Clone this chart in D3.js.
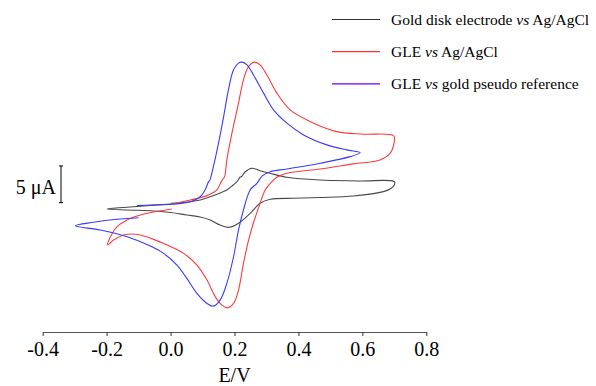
<!DOCTYPE html>
<meta charset="utf-8">
<script src="https://d3js.org/d3.v7.min.js"></script>
<style>
  body { margin: 0; background: #fff; }
  text { font-family: "Liberation Serif", "Times New Roman", serif; fill: #000; }
</style>
<div id="my_dataviz"></div>
<script>

// potential (V) and current (uA), in scan order
var goldDisk = [
  [0.00,0.91],[0.062,1.13],[0.093,1.36],[0.124,1.81],[0.155,2.32],[0.176,2.73],[0.196,3.41],
  [0.208,3.86],[0.218,4.50],[0.2225,4.57],[0.233,5.18],[0.254,5.69],[0.280,5.36],[0.311,5.01],
  [0.364,4.46],[0.468,4.09],[0.593,3.96],[0.70,3.86],[0.70,3.41],[0.690,2.96],[0.666,2.50],
  [0.572,1.91],[0.468,1.71],[0.384,1.60],[0.312,1.46],[0.280,0.91],[0.249,-0.45],[0.2125,-1.81],
  [0.184,-2.36],[0.155,-2.05],[0.124,-1.36],[0.093,-0.95],[0.051,-0.68],[0.0,-0.34],[-0.063,-0.10],
  [-0.136,0.0],[-0.198,0.14],[-0.126,0.41],[-0.063,0.61],[0.0,0.82]
];

var gleAgAgCl = [
  [0.004,0.82],[0.062,1.36],[0.119,2.05],[0.145,2.73],[0.155,3.55],[0.165,4.30],[0.169,4.50],
  [0.176,6.82],[0.192,10.46],[0.2125,14.56],[0.228,17.74],[0.244,19.55],[0.262,20.15],[0.280,19.78],
  [0.301,18.42],[0.3325,15.92],[0.374,13.64],[0.436,12.07],[0.520,10.68],[0.603,10.33],[0.698,10.10],
  [0.699,9.10],[0.687,7.74],[0.655,6.82],[0.572,6.28],[0.468,5.59],[0.364,5.01],[0.3325,4.46],
  [0.312,3.64],[0.296,2.73],[0.280,0.91],[0.259,-1.81],[0.244,-4.09],[0.228,-7.27],[0.2125,-10.91],
  [0.197,-12.73],[0.178,-13.33],[0.161,-12.96],[0.140,-11.83],[0.114,-9.55],[0.0825,-7.50],
  [0.041,-5.91],[-0.011,-4.77],[-0.053,-4.00],[-0.095,-3.41],[-0.121,-3.27],[-0.147,-3.41],
  [-0.178,-4.09],[-0.197,-4.77],[-0.188,-3.64],[-0.1675,-2.28],[-0.136,-1.36],[-0.084,-0.55],
  [0.004,0.14]
];

var glePseudo = [
  [-0.105,0.59],[-0.063,0.68],[0.004,0.78],[0.062,1.13],[0.093,1.81],[0.108,2.73],[0.119,3.86],
  [0.1225,4.02],[0.134,5.91],[0.150,9.10],[0.166,12.73],[0.181,16.37],[0.197,19.10],[0.2125,20.01],
  [0.223,20.15],[0.239,19.78],[0.259,18.42],[0.291,15.92],[0.322,13.64],[0.364,11.83],[0.416,10.23],
  [0.489,8.87],[0.551,8.19],[0.593,7.82],[0.562,7.27],[0.468,6.37],[0.364,5.59],[0.312,5.22],
  [0.287,4.64],[0.270,3.64],[0.249,2.73],[0.228,0.0],[0.2125,-2.73],[0.197,-6.37],[0.176,-10.0],
  [0.155,-12.28],[0.134,-13.10],[0.114,-12.73],[0.0825,-11.36],[0.051,-9.32],[0.020,-7.50],
  [-0.022,-5.91],[-0.063,-4.91],[-0.136,-3.64],[-0.220,-2.73],[-0.298,-2.14],[-0.241,-1.68],
  [-0.1675,-1.27],[-0.100,-1.05]
];

var seriesNames = ["Gold disk electrode", "GLE", "GLE"];
var seriesRefs = ["Ag/AgCl", "Ag/AgCl", "gold pseudo reference"];
var xTicks = [-0.4, -0.2, 0.0, 0.2, 0.4, 0.6, 0.8];
var scaleBar = [1, 6]; // 5 uA

var width = 596, height = 386;

var svg = d3.select("#my_dataviz").append("svg")
    .attr("width", width)
    .attr("height", height);

var x = d3.scaleLinear().domain([-0.4, 0.8]).range([42.7, 426.3]);
var y = d3.scaleLinear().domain([0, 5]).range([210, 173.3]);

var axisY = 332;

var xAxis = d3.axisBottom(x)
    .tickValues(xTicks)
    .tickFormat(function(d) { return d.toFixed(1); })
    .tickSizeInner(4)
    .tickSizeOuter(0)
    .tickPadding(6);

var gx = svg.append("g")
    .attr("transform", "translate(0," + axisY + ")")
    .call(xAxis)
    .attr("font-family", null)
    .attr("font-size", null);
gx.select(".domain").attr("stroke", "#555");
gx.selectAll(".tick line").attr("stroke", "#333");
gx.selectAll("text")
    .attr("fill", "#000")
    .style("font-size", "20px")
    .style("font-family", "'Liberation Serif', serif");

svg.append("text")
    .attr("x", x(0.2))
    .attr("y", 382)
    .attr("text-anchor", "middle")
    .style("font-size", "20px")
    .text("E/V");

// scale bar
svg.append("line")
    .attr("x1", 61).attr("x2", 61)
    .attr("y1", y(scaleBar[0])).attr("y2", y(scaleBar[1]))
    .attr("stroke", "#000").attr("stroke-width", 1);
[scaleBar[0], scaleBar[1]].forEach(function(v) {
  svg.append("line")
    .attr("x1", 59).attr("x2", 63)
    .attr("y1", y(v)).attr("y2", y(v))
    .attr("stroke", "#000").attr("stroke-width", 1);
});
svg.append("text")
    .attr("x", 56)
    .attr("y", 194)
    .attr("text-anchor", "end")
    .style("font-size", "20px")
    .text("5 \u03bcA");

var line = d3.line()
    .x(function(d) { return x(d[0]); })
    .y(function(d) { return y(d[1]); })
    .curve(d3.curveCatmullRom.alpha(0.5));

var curves = [goldDisk, gleAgAgCl, glePseudo];
var colours = ["#484848", "#ff3b3b", "#3a3aff"];
var legendColours = ["#333333", "#ff3030", "#6a00ff"];

svg.selectAll("cv")
  .data(curves)
  .enter()
  .append("path")
    .attr("d", line)
    .attr("fill", "none")
    .attr("stroke", function(d, i) { return colours[i]; })
    .attr("stroke-width", 1.1);

// legend
var legend = svg.selectAll("legend")
  .data(seriesNames)
  .enter()
  .append("g")
    .attr("transform", function(d, i) { return "translate(0," + (19.5 + i * 32.2) + ")"; });

legend.append("line")
    .attr("x1", 332).attr("x2", 380)
    .attr("stroke", function(d, i) { return legendColours[i]; })
    .attr("stroke-width", 1.2);

var lt = legend.append("text")
    .attr("x", 391)
    .attr("y", 5.5)
    .style("font-size", "15.5px");
lt.append("tspan").text(function(d) { return d + " "; });
lt.append("tspan").style("font-style", "italic").text("vs");
lt.append("tspan").text(function(d, i) { return " " + seriesRefs[i]; });

</script>
